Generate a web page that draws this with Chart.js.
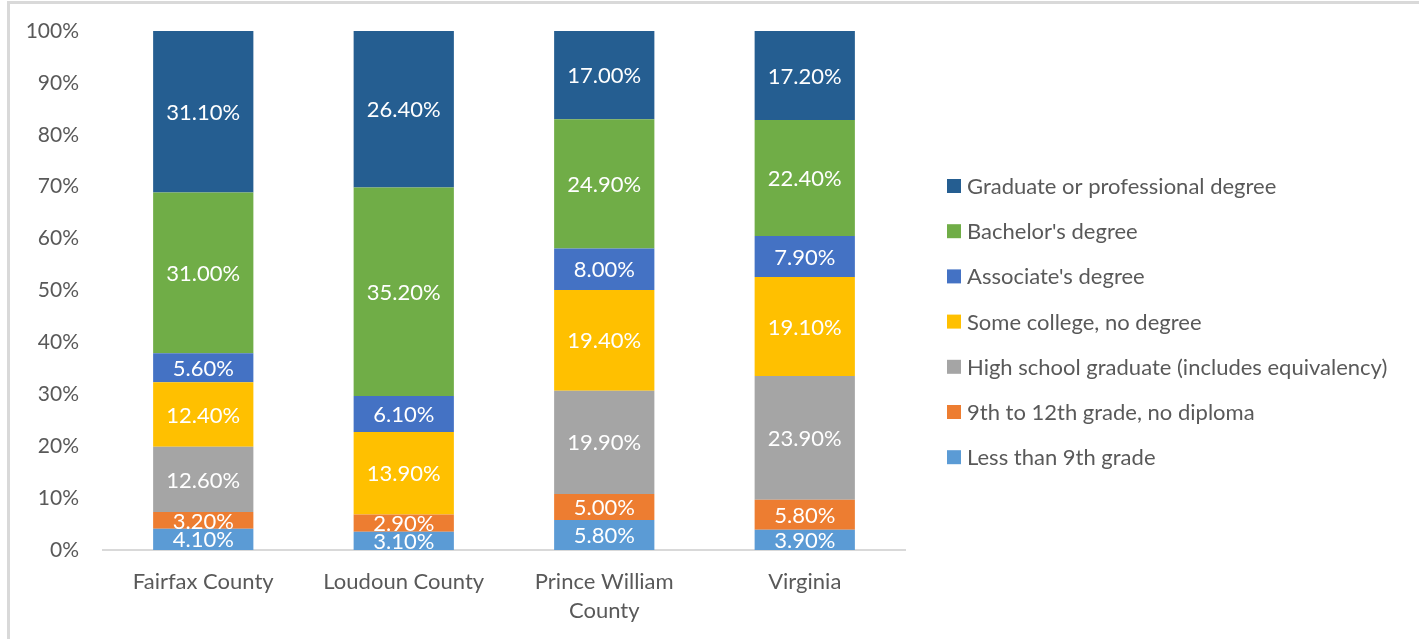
<!DOCTYPE html>
<html>
<head>
<meta charset="utf-8">
<script src="https://cdn.jsdelivr.net/npm/chart.js@4.4.1/dist/chart.umd.min.js"></script>
<style>
  html, body { margin: 0; padding: 0; background: #fff; overflow: hidden; }
  #frame { position: absolute; left: 7px; top: 1px; width: 1430px; height: 660px;
           border-top: 3px solid #d9d9d9; border-left: 3px solid #d9d9d9; }
  #wrap { position: absolute; left: 0; top: 0; width: 1419px; height: 639px; }
</style>
</head>
<body>
<div id="frame"></div>
<div id="wrap"><canvas id="chart"></canvas></div>
<script>
// categories (multi-line labels like the original)
const categories = [['Fairfax County'], ['Loudoun County'], ['Prince William', 'County'], ['Virginia']];

// series values in percent, as printed on the bars (Loudoun has no high school value)
const lessThan9th = [4.1, 3.1, 5.8, 3.9];
const grade9to12 = [3.2, 2.9, 5.0, 5.8];
const highSchool = [12.6, null, 19.9, 23.9];
const someCollege = [12.4, 13.9, 19.4, 19.1];
const associates = [5.6, 6.1, 8.0, 7.9];
const bachelors = [31.0, 35.2, 24.9, 22.4];
const graduate = [31.1, 26.4, 17.0, 17.2];

const yTicks = [0, 10, 20, 30, 40, 50, 60, 70, 80, 90, 100];

const series = [
  { label: 'Less than 9th grade', values: lessThan9th, color: '#5b9bd5' },
  { label: '9th to 12th grade, no diploma', values: grade9to12, color: '#ed7d31' },
  { label: 'High school graduate (includes equivalency)', values: highSchool, color: '#a5a5a5' },
  { label: 'Some college, no degree', values: someCollege, color: '#ffc000' },
  { label: "Associate's degree", values: associates, color: '#4472c4' },
  { label: "Bachelor's degree", values: bachelors, color: '#70ad47' },
  { label: 'Graduate or professional degree', values: graduate, color: '#255e91' }
];

// 100% stacked: scale each column to its own total
const totals = categories.map((c, j) => series.reduce((s, d) => s + (d.values[j] || 0), 0));

const datasets = series.map(s => ({
  label: s.label,
  data: s.values.map((v, j) => v == null ? null : v / totals[j] * 100),
  raw: s.values,
  backgroundColor: s.color,
  borderWidth: 0,
  categoryPercentage: 0.5,
  barPercentage: 1.0
}));

const FONT = 'Lato, "Open Sans", sans-serif';
const TEXT = '#595959';

// white value labels in the middle of each segment
const barLabels = {
  id: 'barLabels',
  afterDatasetsDraw(chart) {
    const ctx = chart.ctx;
    ctx.save();
    ctx.fillStyle = '#ffffff';
    ctx.font = '22px ' + FONT;
    ctx.textAlign = 'center';
    ctx.textBaseline = 'middle';
    chart.data.datasets.forEach((ds, i) => {
      chart.getDatasetMeta(i).data.forEach((bar, j) => {
        const v = ds.raw[j];
        if (v == null) return;
        ctx.fillText(v.toFixed(2) + '%', bar.x, (bar.y + bar.base) / 2 + 1);
      });
    });
    ctx.restore();
  }
};

// legend on the right, top entry = last dataset
const sideLegend = {
  id: 'sideLegend',
  afterDraw(chart) {
    const ctx = chart.ctx;
    const left = chart.chartArea.right + 42;
    const top = 186, step = 45.2;
    ctx.save();
    ctx.font = '22px ' + FONT;
    ctx.textBaseline = 'middle';
    ctx.textAlign = 'left';
    chart.data.datasets.slice().reverse().forEach((ds, k) => {
      const cy = top + k * step;
      ctx.fillStyle = ds.backgroundColor;
      ctx.fillRect(left, cy - 7, 14, 14);
      ctx.fillStyle = TEXT;
      ctx.fillText(ds.label, left + 20, cy + 1);
    });
    ctx.restore();
  }
};

new Chart(document.getElementById('chart'), {
  type: 'bar',
  data: { labels: categories, datasets: datasets },
  plugins: [barLabels, sideLegend],
  options: {
    responsive: true,
    maintainAspectRatio: false,
    animation: false,
    layout: { padding: { top: 31, bottom: 0, left: 0, right: 514 } },
    plugins: {
      tooltip: { enabled: false },
      legend: { display: false }
    },
    scales: {
      x: {
        stacked: true,
        grid: { display: false },
        border: { display: true, color: '#d9d9d9', width: 2 },
        ticks: { color: TEXT, padding: 9, maxRotation: 0, autoSkip: false,
                 font: { family: FONT, size: 22, lineHeight: 1.32 } },
        afterFit(scale) { scale.height = 89; scale.paddingLeft = 0; scale.paddingRight = 0; }
      },
      y: {
        stacked: true,
        min: 0,
        max: 100,
        grid: { display: false, drawTicks: false },
        border: { display: false },
        afterBuildTicks(scale) { scale.ticks = yTicks.map(v => ({ value: v })); },
        ticks: { color: TEXT, padding: 24,
                 font: { family: FONT, size: 21 },
                 callback: v => v + '%' },
        afterFit(scale) { scale.width = 103; scale.paddingTop = 0; scale.paddingBottom = 0; }
      }
    }
  }
});
</script>
</body>
</html>
